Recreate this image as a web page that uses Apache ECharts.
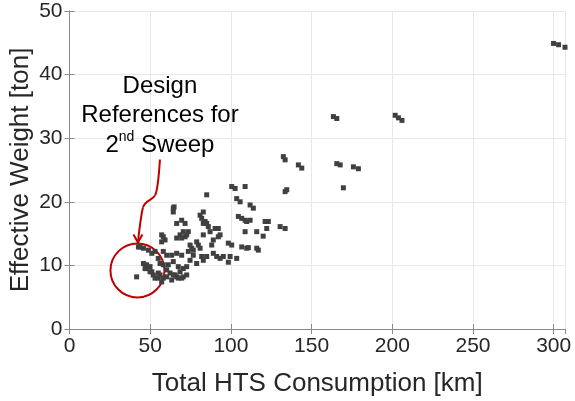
<!DOCTYPE html>
<html>
<head>
<meta charset="utf-8">
<script src="https://cdn.jsdelivr.net/npm/echarts@6/dist/echarts.min.js"></script>
<style>
  html, body { margin: 0; padding: 0; background: #fff; }
  #chart { width: 575px; height: 401px; }
</style>
</head>
<body>
<div id="chart"></div>
<script>
// total HTS consumption [km]
const hts = [
  41.6, 42.7, 45.8, 48.9, 51.0, 53.0, 45.8, 47.8, 46.8, 49.9, 51.0, 51.9, 53.0, 55.0,
  56.1, 58.1, 60.2, 62.3, 63.3, 65.4, 67.4, 69.5, 57.1, 55.0, 47.8, 49.9, 60.2, 64.3,
  66.4, 70.5, 72.6, 55.0, 56.1, 58.1, 61.2, 64.3, 67.4, 68.5, 70.5, 72.6, 58.1, 60.2,
  63.3, 66.4, 69.5, 57.1, 59.2, 57.1, 58.1, 64.3, 64.8, 66.4, 69.5, 71.6, 68.5, 69.5,
  71.6, 73.6, 66.4, 80.9, 81.9, 84.0, 85.0, 86.0, 87.1, 82.9, 92.2, 93.3, 89.1, 88.1,
  78.8, 79.8, 80.9, 76.7, 74.7, 75.7, 73.6, 98.4, 100.5, 103.6, 106.7, 109.8, 104.6, 106.7,
  109.8, 102.6, 103.6, 105.7, 89.1, 91.2, 95.3, 81.9, 82.9, 78.8, 74.7, 76.7, 82.9, 82.9,
  85.0, 100.5, 108.8, 111.9, 113.9, 108.8, 111.9, 108.8, 116.0, 116.0, 117.0, 92.2, 121.2, 123.2,
  122.2, 130.5, 133.6, 132.5, 133.6, 141.8, 143.9, 134.6, 133.6, 163.5, 165.6, 165.6, 167.7, 175.9,
  179.0, 169.7, 201.8, 203.8, 206.0, 299.9, 303.0, 307.0, 43.7, 90.2, 99.5, 93.3, 85.0, 70.5,
  72.6, 98.4, 120.0, 110.8, 64.3
];
// effective weight [ton]
const weight = [
  8.2, 12.9, 12.7, 12.4, 11.9, 12.2, 10.3, 10.1, 9.5, 9.8, 9.0, 8.5, 8.0, 8.8,
  8.5, 8.0, 8.2, 8.8, 7.7, 8.5, 8.0, 8.0, 7.4, 8.0, 9.5, 9.0, 9.3, 8.5,
  8.2, 8.2, 8.5, 11.1, 10.3, 10.1, 10.1, 10.6, 9.8, 9.0, 9.5, 9.8, 12.2, 11.6,
  11.6, 11.9, 11.6, 14.8, 14.0, 13.7, 14.5, 18.4, 19.2, 16.6, 17.1, 16.6, 14.8, 14.3,
  14.5, 15.3, 14.3, 17.9, 17.4, 16.9, 21.1, 16.1, 15.3, 14.8, 15.8, 14.8, 14.0, 13.2,
  13.7, 13.2, 12.7, 12.4, 13.2, 12.7, 12.2, 13.5, 13.2, 11.1, 12.9, 12.7, 17.7, 17.4,
  16.9, 22.1, 20.5, 20.0, 11.9, 11.4, 11.4, 11.4, 10.8, 10.3, 10.8, 11.6, 18.4, 16.6,
  16.6, 22.4, 22.4, 19.5, 19.0, 17.1, 17.1, 15.3, 15.3, 12.7, 12.4, 14.5, 16.9, 16.9,
  15.8, 16.1, 15.8, 27.1, 26.6, 25.8, 25.3, 21.9, 21.6, 33.4, 33.1, 26.0, 25.8, 25.5,
  25.2, 22.2, 33.6, 33.2, 32.8, 44.9, 44.7, 44.3, 12.9, 15.8, 11.4, 11.1, 11.4, 15.3,
  14.8, 10.5, 14.6, 12.8, 19.0
];
const xTicks = [0, 50, 100, 150, 200, 250, 300];
const yTicks = [0, 10, 20, 30, 40, 50];
const noteLines = ['Design', 'References for', '2{sup|nd} Sweep'];
const circleCenter = [42.1, 9.2]; // data units

const points = hts.map((x, i) => [x, weight[i]]);

const axisColor = '#8a8a8a';
const textColor = '#262626';
const red = '#c00000';
const font = 'Liberation Sans, Arial, sans-serif';

const chart = echarts.init(document.getElementById('chart'), null, { renderer: 'canvas' });

const baseX = {
  type: 'value',
  min: xTicks[0],
  max: 307,
  interval: 50,
  axisLine: { show: true, lineStyle: { color: axisColor, width: 1 } },
  axisTick: { show: true, inside: true, length: 5, lineStyle: { color: axisColor } },
  splitLine: { show: false }
};
const baseY = {
  type: 'value',
  min: yTicks[0],
  max: yTicks[yTicks.length - 1],
  interval: 10,
  axisLine: { show: true, lineStyle: { color: axisColor, width: 1 } },
  axisTick: { show: true, inside: true, length: 5, lineStyle: { color: axisColor } },
  splitLine: { show: false }
};

chart.setOption({
  animation: false,
  backgroundColor: '#fff',
  textStyle: { fontFamily: font },
  grid: { left: 69.5, right: 10, top: 11, bottom: 72, containLabel: false, outerBoundsMode: 'none' },
  xAxis: [
    Object.assign({}, baseX, {
      position: 'bottom',
      name: 'Total HTS Consumption [km]',
      nameLocation: 'middle',
      nameGap: 42,
      nameMoveOverlap: false,
      nameTextStyle: { fontSize: 26, color: textColor },
      axisLabel: { fontSize: 21, color: textColor, margin: 7 },
      splitLine: { show: true, lineStyle: { color: '#e8e8e8', width: 1 } }
    }),
    Object.assign({}, baseX, { position: 'top', axisLabel: { show: false } })
  ],
  yAxis: [
    Object.assign({}, baseY, {
      position: 'left',
      name: 'Effective Weight [ton]',
      nameLocation: 'middle',
      nameGap: 36,
      nameMoveOverlap: false,
      nameTextStyle: { fontSize: 26, color: textColor },
      axisLabel: { fontSize: 21, color: textColor, margin: 7 },
      splitLine: { show: true, lineStyle: { color: '#e8e8e8', width: 1 } }
    }),
    Object.assign({}, baseY, { position: 'right', axisLabel: { show: false } })
  ],
  series: [{
    type: 'scatter',
    data: points,
    symbol: 'rect',
    symbolSize: 5,
    itemStyle: { color: '#404040', opacity: 1 },
    silent: true
  }]
});

// annotation: circle around the design references, arrow and note text
const c = chart.convertToPixel({ gridIndex: 0 }, circleCenter);
const cx = c[0], cy = c[1];
const arrowStyle = { fill: 'none', stroke: red, lineWidth: 2 };
chart.setOption({
  graphic: [
    {
      type: 'circle',
      shape: { cx: cx, cy: cy, r: 27 },
      style: { fill: 'none', stroke: red, lineWidth: 2 }
    },
    {
      type: 'bezierCurve',
      shape: {
        x1: cx + 22.5, y1: cy - 111,
        cpx1: cx + 21.5, cpy1: cy - 96,
        cpx2: cx + 20.5, cpy2: cy - 80,
        x2: cx + 17.5, y2: cy - 75
      },
      style: arrowStyle
    },
    {
      type: 'bezierCurve',
      shape: {
        x1: cx + 17.5, y1: cy - 75,
        cpx1: cx + 14.5, cpy1: cy - 70,
        cpx2: cx + 7.5, cpy2: cy - 70,
        x2: cx + 5.5, y2: cy - 63
      },
      style: arrowStyle
    },
    {
      type: 'bezierCurve',
      shape: {
        x1: cx + 5.5, y1: cy - 63,
        cpx1: cx + 3.5, cpy1: cy - 55,
        cpx2: cx + 2, cpy2: cy - 42,
        x2: cx + 0.5, y2: cy - 28
      },
      style: arrowStyle
    },
    {
      type: 'polyline',
      shape: { points: [[cx - 4, cy - 36], [cx + 0.5, cy - 28], [cx + 5, cy - 36]] },
      style: arrowStyle
    },
    {
      type: 'text',
      x: cx + 22.5,
      y: cy - 199,
      style: {
        text: noteLines.join('\n'),
        fontSize: 24,
        lineHeight: 29.5,
        fontFamily: font,
        fill: '#000',
        align: 'center',
        verticalAlign: 'top',
        rich: {
          sup: { fontSize: 14, fontFamily: font, fill: '#000', verticalAlign: 'top', lineHeight: 29.5, padding: [0, 0, 6, 0] }
        }
      }
    }
  ]
});
</script>
</body>
</html>
